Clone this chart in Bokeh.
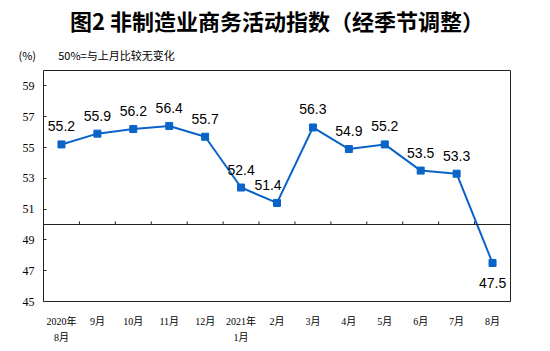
from bokeh.plotting import figure
from bokeh.models import Range1d, FixedTicker, Span, Title, ColumnDataSource
from bokeh.embed import file_html
from bokeh.resources import INLINE
from bokeh.core.properties import value

months = ["2020年\n8月", "9月", "10月", "11月", "12月", "2021年\n1月", "2月",
          "3月", "4月", "5月", "6月", "7月", "8月"]
values = [55.2, 55.9, 56.2, 56.4, 55.7, 52.4, 51.4, 56.3, 54.9, 55.2, 53.5, 53.3, 47.5]
y_ticks = [45, 47, 49, 51, 53, 55, 57, 59]
baseline = 50

xs = list(range(len(months)))
label_dx = [0] * len(values)
label_dy = [-18] * len(values)
label_dx[6] = -9
label_dy[-1] = 20

src = ColumnDataSource(dict(x=xs, y=values, t=[f"{v:.1f}" for v in values],
                            dx=label_dx, dy=label_dy))

p = figure(width=550, height=351, output_backend="svg", toolbar_location=None,
           x_range=Range1d(-0.5, len(months) - 0.5), y_range=Range1d(45, 60),
           min_border_left=43, min_border_right=40, min_border_top=70, min_border_bottom=50)
p.frame_width = 467
p.frame_height = 231
p.background_fill_color = "white"
p.border_fill_color = "white"
p.outline_line_color = "#222222"
p.outline_line_width = 1
p.xgrid.visible = False
p.ygrid.visible = False

axis_color = "#222222"
p.yaxis.ticker = FixedTicker(ticks=y_ticks)
p.yaxis.axis_line_color = None
p.yaxis.major_tick_in = 3
p.yaxis.major_tick_out = 0
p.yaxis.major_tick_line_color = axis_color
p.yaxis.minor_tick_line_color = None
p.yaxis.major_label_text_font = "Liberation Serif"
p.yaxis.major_label_text_font_size = "12px"
p.yaxis.major_label_text_color = "black"
p.yaxis.major_label_standoff = 9

p.xaxis.ticker = FixedTicker(ticks=xs)
p.xaxis.major_label_overrides = {i: m for i, m in enumerate(months)}
p.xaxis.axis_line_color = None
p.xaxis.major_tick_line_color = None
p.xaxis.minor_tick_line_color = None
p.xaxis.major_label_text_font = "'Liberation Serif', 'Noto Sans CJK SC'"
p.xaxis.major_label_text_font_size = "10px"
p.xaxis.major_label_text_color = "black"
p.xaxis.major_label_text_line_height = 1.5
p.xaxis.major_label_standoff = 8

p.add_layout(Span(location=baseline, dimension="width", line_color=axis_color, line_width=1))
bx = [i + 0.5 for i in range(len(months) - 1)]
p.segment(x0=bx, x1=bx, y0=[baseline] * len(bx), y1=[baseline + 0.2] * len(bx),
          line_color=axis_color, line_width=1)

blue = "#0A64C8"
p.line("x", "y", source=src, line_color=blue, line_width=2)
p.scatter("x", "y", source=src, marker="square", size=7, fill_color=blue, line_color=blue)
p.text("x", "y", text="t", source=src, x_offset="dx", y_offset="dy",
       text_align="center", text_baseline="middle",
       text_font=value("Liberation Sans"), text_font_size="14px", text_color="black")

nb = "\u00a0"
p.add_layout(Title(text="(%)" + nb * 9 + "50%=与上月比较无变化", align="left", offset=-25,
                   standoff=16, text_font="Noto Sans CJK SC", text_font_size="11px",
                   text_font_style="normal", text_color="black"), "above")
p.add_layout(Title(text="图2" + nb + "非制造业商务活动指数（经季节调整）", align="center", offset=-3,
                   standoff=1, text_font="Noto Sans CJK SC", text_font_size="22px",
                   text_font_style="bold", text_color="black"), "above")

open("out.html", "w").write(file_html(p, INLINE))
